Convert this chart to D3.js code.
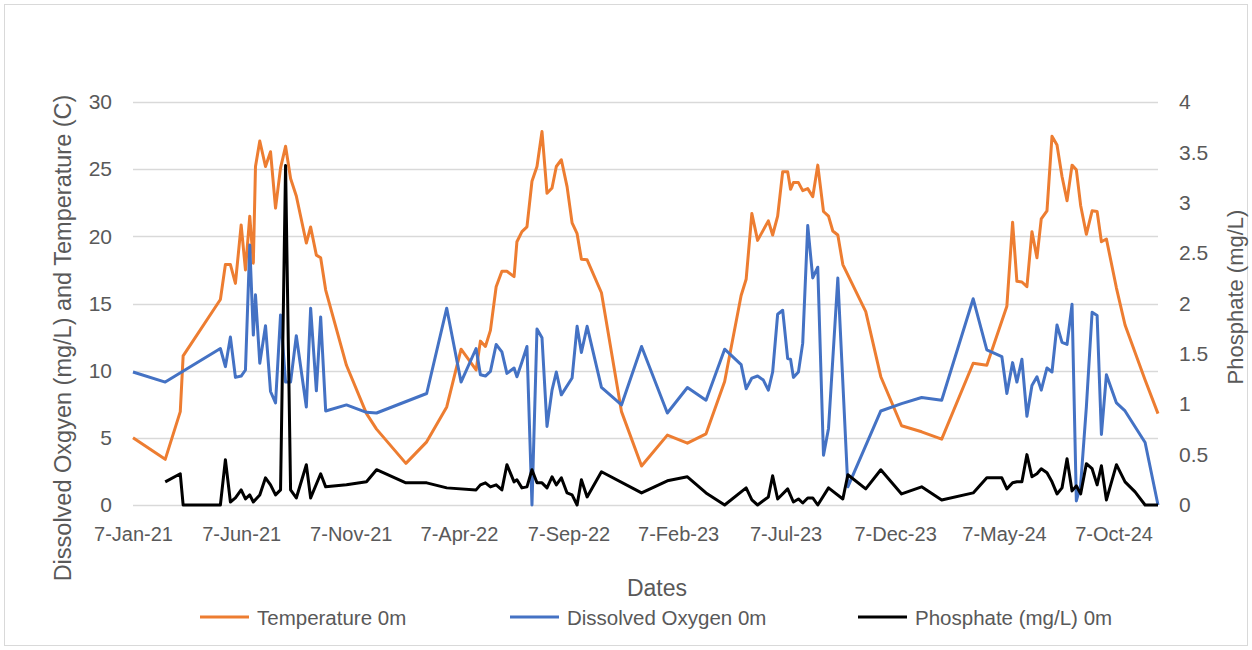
<!DOCTYPE html>
<html>
<head>
<meta charset="utf-8">
<script src="https://cdn.jsdelivr.net/npm/d3@7"></script>
<style>
  body { margin: 0; background: #fff; }
  svg text { font-family: "Liberation Sans", Arial, sans-serif; fill: #595959; }
</style>
</head>
<body>
<div id="chart"></div>
<script>
// sampling dates (shared by all three series)
var dates = [
  "2021-01-07","2021-02-21","2021-03-14","2021-03-18","2021-05-09","2021-05-16","2021-05-23","2021-05-30",
  "2021-06-07","2021-06-13","2021-06-19","2021-06-24","2021-06-27","2021-07-03","2021-07-11","2021-07-18",
  "2021-07-25","2021-08-01","2021-08-08","2021-08-15","2021-08-23","2021-09-06","2021-09-12","2021-09-20",
  "2021-09-26","2021-10-03","2021-11-01","2021-11-29","2021-12-13","2022-01-23","2022-02-21","2022-03-21",
  "2022-04-10","2022-05-01","2022-05-07","2022-05-14","2022-05-21","2022-05-29","2022-06-06","2022-06-13",
  "2022-06-23","2022-06-27","2022-07-04","2022-07-11","2022-07-18","2022-07-25","2022-08-01","2022-08-08",
  "2022-08-15","2022-08-21","2022-08-28","2022-09-05","2022-09-12","2022-09-19","2022-09-25","2022-10-03",
  "2022-10-23","2022-11-20","2022-12-18","2023-01-23","2023-02-20","2023-03-18","2023-04-13","2023-05-06",
  "2023-05-13","2023-05-21","2023-05-29","2023-06-06","2023-06-13","2023-06-19","2023-06-26","2023-07-03",
  "2023-07-10","2023-07-14","2023-07-18","2023-07-25","2023-07-31","2023-08-07","2023-08-14","2023-08-21",
  "2023-08-29","2023-09-05","2023-09-11","2023-09-18","2023-09-25","2023-10-02","2023-10-27","2023-11-17",
  "2023-12-16","2024-01-13","2024-02-10","2024-03-25","2024-04-13","2024-05-04","2024-05-11","2024-05-19",
  "2024-05-25","2024-06-01","2024-06-08","2024-06-15","2024-06-22","2024-06-28","2024-07-06","2024-07-13",
  "2024-07-20","2024-07-27","2024-08-03","2024-08-10","2024-08-16","2024-08-22","2024-08-30","2024-09-07",
  "2024-09-14","2024-09-20","2024-09-27","2024-10-11","2024-10-23","2024-11-06","2024-11-20","2024-12-08"
];

var temperature = [
  5.0, 3.4, 6.95, 11.1, 15.3, 17.9, 17.9, 16.5,
  20.85, 17.5, 21.5, 18.0, 25.2, 27.1, 25.2, 26.3,
  22.1, 25.1, 26.7, 24.3, 23.0, 19.5, 20.7, 18.6,
  18.4, 16.0, 10.4, 6.8, 5.65, 3.1, 4.7, 7.3,
  11.6, 10.05, 12.2, 11.8, 13.0, 16.25, 17.4, 17.4,
  17.0, 19.6, 20.35, 20.7, 24.1, 25.2, 27.8, 23.2,
  23.6, 25.2, 25.7, 23.7, 21.0, 20.2, 18.3, 18.25,
  15.8, 6.95, 2.9, 5.2, 4.6, 5.3, 9.2, 15.6,
  16.8, 21.7, 19.7, null, 21.15, 20.1, 21.5, 24.8,
  24.8, 23.5, 24.0, 24.0, 23.4, 23.55, 22.95, 25.3,
  21.85, 21.5, 20.4, 20.1, 17.9, null, 14.4, 9.55,
  5.9, 5.45, 4.9, 10.55, 10.4, null, 14.8, 21.05,
  16.65, 16.6, 16.25, 20.35, 18.4, 21.3, 21.9, 27.45,
  26.8, 24.45, 22.65, 25.3, 24.95, 22.3, 20.15, 21.9,
  21.85, 19.6, 19.8, 16.15, 13.4, null, 9.3, 6.8
];

var oxygen = [
  9.9, 9.15, null, null, 11.65, 10.3, 12.5, 9.5,
  9.6, 10.05, 19.35, 12.65, 15.65, 10.55, 13.35, 8.45,
  7.6, 14.15, 9.15, 9.15, 12.6, 7.3, 14.65, 8.5,
  14.0, 7.0, 7.45, 6.9, 6.85, null, 8.3, 14.65,
  9.15, 11.65, 9.7, 9.6, 9.95, 11.95, 11.4, 9.8,
  10.2, 9.55, 10.65, 11.8, 0, 13.1, 12.45, 5.85,
  8.55, 9.9, 8.2, null, 9.45, 13.3, 11.35, 13.3,
  8.75, 7.45, 11.8, 6.85, 8.75, 7.8, 11.6, 10.45,
  8.65, 9.45, 9.6, 9.3, 8.55, 9.9, 14.2, 14.5,
  10.9, 10.85, 9.5, 9.9, 12.05, 20.8, 16.9, 17.7,
  3.7, 5.7, null, 16.9, null, 1.35, null, 7.0,
  7.55, 8.0, 7.8, 15.35, 11.55, 11.05, 8.3, 10.6,
  9.15, 10.85, 6.6, 8.9, 9.55, 8.55, 10.2, 9.9,
  13.4, 12.1, 11.95, 14.95, 0.3, 1.5, 7.3, 14.35,
  14.1, 5.25, 9.7, 7.6, 7.0, null, 4.65, 0
];

var phosphate = [
  null, 0.23, 0.31, 0.0, 0.0, 0.45, 0.03, 0.07,
  0.15, 0.06, 0.1, 0.03, null, 0.1, 0.27, 0.2,
  0.1, 0.15, 3.37, 0.15, 0.07, 0.4, 0.07, null,
  0.31, 0.18, 0.2, 0.23, 0.35, 0.22, 0.22, 0.17,
  null, 0.15, 0.2, 0.22, 0.18, 0.2, 0.15, 0.4,
  0.23, 0.25, 0.17, 0.18, 0.35, 0.22, 0.22, 0.17,
  0.28, 0.2, 0.27, 0.12, 0.1, 0.0, 0.25, 0.08,
  0.33, null, 0.12, 0.24, 0.28, 0.12, 0.0, null,
  0.17, 0.05, 0.0, null, 0.08, 0.29, 0.06, null,
  0.16, null, 0.03, 0.06, 0.02, 0.07, 0.07, 0.0,
  null, 0.17, null, null, 0.06, 0.3, 0.16, 0.35,
  0.11, 0.18, 0.05, 0.12, 0.27, 0.27, 0.16, 0.22,
  0.23, 0.23, 0.5, 0.28, 0.31, 0.36, 0.32, 0.23,
  0.11, 0.17, 0.46, 0.14, 0.19, 0.11, 0.41, 0.36,
  0.2, 0.39, 0.05, 0.4, 0.23, 0.13, 0.0, 0.0
];

var xTicks = ["2021-01-07","2021-06-07","2021-11-07","2022-04-07","2022-09-07",
              "2023-02-07","2023-07-07","2023-12-07","2024-05-07","2024-10-07"];
var leftTicks = [0, 5, 10, 15, 20, 25, 30];
var rightTicks = [0, 0.5, 1, 1.5, 2, 2.5, 3, 3.5, 4];

var seriesNames = ["Temperature 0m", "Dissolved Oxygen 0m", "Phosphate (mg/L) 0m"];
var seriesColors = ["#ED7D31", "#4472C4", "#000000"];

var W = 1252, H = 650;
var margin = {top: 102, right: 94, bottom: 145, left: 133},
    width = W - margin.left - margin.right,
    height = H - margin.top - margin.bottom;

var parse = d3.timeParse("%Y-%m-%d");
var fmt = d3.timeFormat("%-d-%b-%y");

var x = d3.scaleTime()
    .domain([parse(dates[0]), parse(dates[dates.length - 1])])
    .range([0, width]);
var yL = d3.scaleLinear().domain([0, 30]).range([height, 0]);
var yR = d3.scaleLinear().domain([0, 4]).range([height, 0]);

var svg = d3.select("#chart").append("svg")
    .attr("width", W)
    .attr("height", H);

svg.append("rect")
    .attr("x", 4.5).attr("y", 4.5)
    .attr("width", W - 9).attr("height", H - 9)
    .attr("fill", "none")
    .attr("stroke", "#d9d9d9");

var g = svg.append("g")
    .attr("transform", "translate(" + margin.left + "," + margin.top + ")");

// gridlines
g.append("g").selectAll("line")
    .data(leftTicks)
  .enter().append("line")
    .attr("x1", 0).attr("x2", width)
    .attr("y1", function(d) { return Math.round(yL(d)) + 0.5; })
    .attr("y2", function(d) { return Math.round(yL(d)) + 0.5; })
    .attr("stroke", "#d9d9d9")
    .attr("stroke-width", 1.3);

// axes
var ax = g.append("g")
    .attr("transform", "translate(0," + height + ")")
    .call(d3.axisBottom(x)
      .tickValues(xTicks.map(parse))
      .tickFormat(fmt)
      .tickSize(0)
      .tickPadding(22));
ax.select(".domain").remove();
ax.selectAll("text").style("font-size", "20px");

var al = g.append("g")
    .call(d3.axisLeft(yL).tickValues(leftTicks).tickSize(0).tickPadding(21));
al.select(".domain").remove();
al.selectAll("text").style("font-size", "21px");

var ar = g.append("g")
    .attr("transform", "translate(" + width + ",0)")
    .call(d3.axisRight(yR).tickValues(rightTicks).tickFormat(d3.format("")).tickSize(0).tickPadding(21));
ar.select(".domain").remove();
ar.selectAll("text").style("font-size", "21px");

// lines
var series = [
  {values: temperature, y: yL},
  {values: oxygen, y: yL},
  {values: phosphate, y: yR}
];

series.forEach(function(s, i) {
  var pts = dates.map(function(d, j) { return {date: parse(d), v: s.values[j]}; })
    .filter(function(p) { return p.v !== null; });
  var line = d3.line()
    .x(function(d) { return x(d.date); })
    .y(function(d) { return s.y(d.v); });
  g.append("path")
    .datum(pts)
    .attr("fill", "none")
    .attr("stroke", seriesColors[i])
    .attr("stroke-width", 3)
    .attr("stroke-linejoin", "round")
    .attr("d", line);
});

// axis titles
svg.append("text")
    .attr("transform", "translate(71,338) rotate(-90)")
    .attr("text-anchor", "middle")
    .style("font-size", "23.5px")
    .text("Dissolved Oxgyen (mg/L) and Temperature (C)");

svg.append("text")
    .attr("transform", "translate(1243,297) rotate(-90)")
    .attr("text-anchor", "middle")
    .style("font-size", "22px")
    .text("Phosphate (mg/L)");

svg.append("text")
    .attr("x", 657).attr("y", 596)
    .attr("text-anchor", "middle")
    .style("font-size", "23px")
    .text("Dates");

// legend
var legendX = [200, 510, 858];
var lg = svg.append("g").selectAll("g")
    .data(seriesNames)
  .enter().append("g")
    .attr("transform", function(d, i) { return "translate(" + legendX[i] + ",617)"; });
lg.append("line")
    .attr("x1", 0).attr("x2", 49)
    .attr("stroke", function(d, i) { return seriesColors[i]; })
    .attr("stroke-width", 3);
lg.append("text")
    .attr("x", 57).attr("y", 7.5)
    .style("font-size", "20.5px")
    .text(function(d) { return d; });
</script>
</body>
</html>
